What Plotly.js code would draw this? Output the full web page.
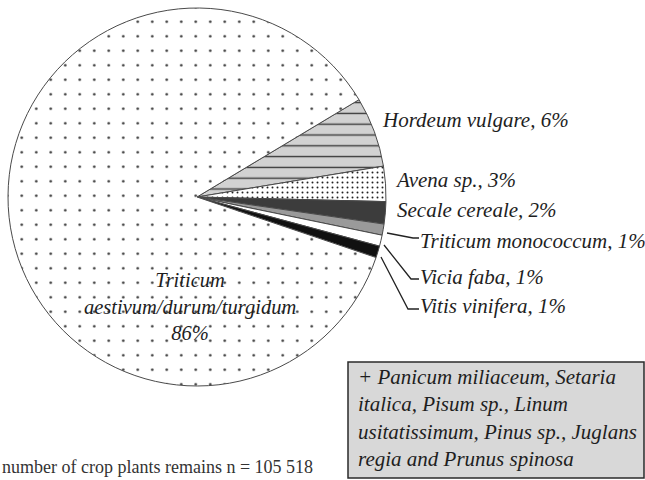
<!DOCTYPE html>
<html>
<head>
<meta charset="utf-8">
<script src="https://cdn.plot.ly/plotly-3.0.1.min.js"></script>
<style>
html,body{margin:0;padding:0;background:#fff;}
#chart{width:645px;height:480px;}
</style>
</head>
<body>
<div id="chart"></div>
<script>
// ---- data ----
var taxa = ["Hordeum vulgare", "Avena sp.", "Secale cereale", "Triticum monococcum", "Vicia faba", "Vitis vinifera", "Triticum aestivum/durum/turgidum"];
var shares = [6.0, 3.0, 1.9, 0.95, 0.95, 1.0, 86.2];
var shareLabels = ["6%", "3%", "2%", "1%", "1%", "1%", "86%"];
var otherTaxa = "+ Panicum miliaceum, Setaria<br>italica, Pisum sp., Linum<br>usitatissimum, Pinus sp., Juglans<br>regia and Prunus spinosa";
var footnote = "number of crop plants remains n = 105 518";

// ---- styling ----
var W = 645, H = 480;
function px(x){ return x / W; }
function py(y){ return 1 - y / H; }
var serif = "Liberation Serif, Times New Roman, serif";
var ink = "#1e1e1e";

var fills = ["#d2d2d2", "#ffffff", "#3c3c3c", "#9a9a9a", "#ffffff", "#111111", "#ffffff"];
var patterns = {
  shape: ["-", ".", "", "", "", "", "."],
  size: [10.8, 5, 8, 8, 8, 8, 14.5],
  solidity: [0.13, 0.12, 0.2, 0.2, 0.2, 0.2, 0.025],
  fgcolor: ["#3a3a3a", "#222222", "#000", "#000", "#000", "#000", "#333333"],
  bgcolor: fills,
  fillmode: "replace"
};

var trace = {
  type: "pie",
  labels: taxa,
  values: shares,
  sort: false,
  direction: "clockwise",
  rotation: 59,
  textinfo: "none",
  hoverinfo: "label+percent",
  showlegend: false,
  domain: {x: [px(8), px(386)], y: [py(386), py(8)]},
  marker: {
    colors: fills,
    pattern: patterns,
    line: {color: "#4a4a4a", width: 1}
  }
};

// label positions (pixel anchors)
var labelPos = [
  [380, 120.5], [393, 180.5], [395, 210.5], [418, 240.5], [418, 276.5], [418, 305.5]
];
var annotations = [];
for (var i = 0; i < 6; i++) {
  annotations.push({
    xref: "paper", yref: "paper",
    x: px(labelPos[i][0]), y: py(labelPos[i][1]),
    xanchor: "left", yanchor: "middle",
    showarrow: false,
    text: "<i>" + taxa[i] + ", " + shareLabels[i] + "</i>",
    font: {family: serif, size: 21, color: ink}
  });
}
var mainParts = taxa[6].split(" ");
annotations.push({
  xref: "paper", yref: "paper",
  x: px(190), y: py(306),
  xanchor: "center", yanchor: "middle",
  showarrow: false,
  text: "<i>" + mainParts[0] + "<br>" + mainParts[1] + "<br>" + shareLabels[6] + "</i>",
  font: {family: serif, size: 20.5, color: ink}
});
annotations.push({
  xref: "paper", yref: "paper",
  x: px(356), y: py(418),
  xanchor: "left", yanchor: "middle",
  align: "left",
  showarrow: false,
  text: "<i>" + otherTaxa + "</i>",
  font: {family: serif, size: 21, color: ink}
});
annotations.push({
  xref: "paper", yref: "paper",
  x: px(0), y: py(479),
  xanchor: "left", yanchor: "bottom",
  showarrow: false,
  text: footnote,
  font: {family: serif, size: 18, color: "#333"}
});

function pathPx(pts){
  return pts.map(function(p, k){ return (k ? "L" : "M") + px(p[0]) + "," + py(p[1]); }).join(" ");
}
var shapes = [
  {type: "rect", xref: "paper", yref: "paper", x0: px(348), x1: px(644), y0: py(478), y1: py(362),
   fillcolor: "#d8d8d8", line: {color: "#2a2a2a", width: 1.5}, layer: "below"},
  {type: "path", xref: "paper", yref: "paper", path: pathPx([[387, 233], [413, 238], [419, 238]]),
   line: {color: "#222", width: 1.3}},
  {type: "path", xref: "paper", yref: "paper", path: pathPx([[384, 245], [411, 279], [419, 279]]),
   line: {color: "#222", width: 1.3}},
  {type: "path", xref: "paper", yref: "paper", path: pathPx([[381, 257], [408, 309], [419, 309]]),
   line: {color: "#222", width: 1.3}}
];

var layout = {
  width: W, height: H,
  margin: {l: 0, r: 0, t: 0, b: 0},
  paper_bgcolor: "#ffffff",
  plot_bgcolor: "#ffffff",
  showlegend: false,
  annotations: annotations,
  shapes: shapes
};

Plotly.newPlot("chart", [trace], layout, {displayModeBar: false, staticPlot: true});
</script>
</body>
</html>
